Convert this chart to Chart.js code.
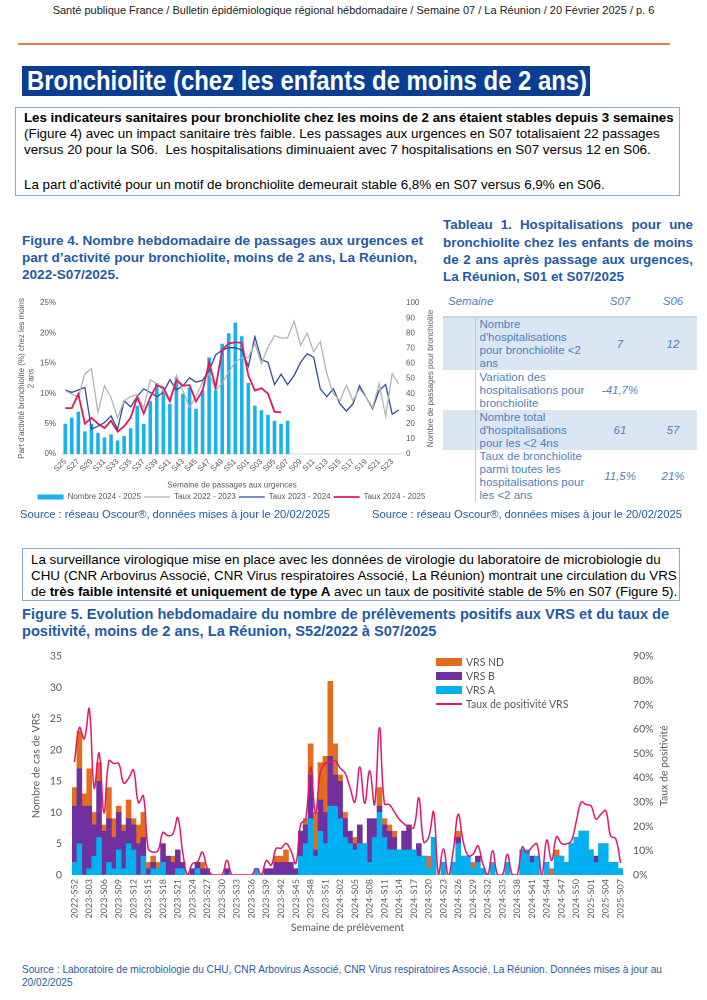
<!DOCTYPE html>
<html lang="fr"><head><meta charset="utf-8">
<script src="https://cdn.jsdelivr.net/npm/chart.js@4.4.1/dist/chart.umd.min.js"></script>
<style>
html,body{margin:0;padding:0}
body{width:707px;height:1000px;position:relative;background:#fff;overflow:hidden;font-family:"Liberation Sans",Arial,sans-serif;color:#000}
.a{position:absolute;white-space:nowrap}
.tt{font-weight:bold;font-size:13.6px;color:#1f5ba6}
.bx{font-size:13.4px}
.src{color:#1f5ba6}
#tbl{position:absolute;left:443px;top:286px;width:254px;border-collapse:collapse;table-layout:fixed;font-family:"Liberation Sans",Arial,sans-serif;font-size:11.5px;line-height:13px;color:#4f7fbf}
#tbl td{padding:0;vertical-align:middle}
#tbl tr.h td{height:30px;border-bottom:2px solid #c5d6ec;font-style:italic}
#tbl tr.s td{background:#dbe6f3}
#tbl td.c0{border-right:1px solid #b9cce6}
#tbl td.v{text-align:center;font-style:italic}
.lg{position:absolute;font-family:Lato,"Open Sans",sans-serif;font-size:10.5px;color:#595959;white-space:nowrap}
.lg span{display:inline-block;vertical-align:middle}
</style></head><body>
<script>
// ---------- Figure 4 data ----------
const weeks4 = ['S25','S26','S27','S28','S29','S30','S31','S32','S33','S34','S35','S36','S37','S38','S39','S40','S41','S42','S43','S44','S45','S46','S47','S48','S49','S50','S51','S52','S01','S02','S03','S04','S05','S06','S07','S08','S09','S10','S11','S12','S13','S14','S15','S16','S17','S18','S19','S20','S21','S22','S23','S24'];
const nombre2425 = [20,24,28,15,20,14,11,13,9,12,17,32,20,35,47,42,33,51,40,44,30,42,64,42,73,80,87,78,47,32,29,26,22,20,22,null,null,null,null,null,null,null,null,null,null,null,null,null,null,null,null,null];
const taux2223 = [10.5,9.9,9.4,13.3,14.1,6.9,11.3,9.3,6,8.8,9.5,9.8,7.6,12.3,11.6,10.5,8.5,13,10.5,7.7,9.5,11.9,13.4,10.5,11.7,13.6,15.2,16,16,18.3,15,17.7,19.6,19.2,19.2,22,18,20,16.9,18.6,13.3,10,8.8,11.4,8.8,10.8,9.4,7.7,11.6,6.3,13.3,11.6];
const taux2324 = [10.6,10.2,10.6,11,4.1,4.6,5.2,6.3,4.1,8.8,7.8,9.5,10.8,10.2,9.5,10.2,12.3,10.6,11.3,12.6,11.9,12.2,13.8,16.4,17.2,17.6,17.6,17.2,14.5,19.4,15.6,15.2,11.5,13.2,11.5,13,15.2,16.6,16,10.8,9.5,10.8,8.3,7.1,8.3,11.3,9.4,7.5,10.5,11.5,6.6,7.3];
const taux2425 = [7.6,7.6,9.9,5,6,5,4.3,5.5,3.7,4.6,6,9.4,6.7,9.4,11.4,11,8.8,12.2,11.3,11.4,8.7,10.5,15.2,11,17.2,18.3,18.5,18.4,13,10.5,10.9,10,7,6.9,null,null,null,null,null,null,null,null,null,null,null,null,null,null,null,null,null,null];
const series4 = ['Nombre 2024 - 2025','Taux 2022 - 2023','Taux 2023 - 2024','Taux 2024 - 2025'];
const ticks4Left = [0,5,10,15,20,25];
const ticks4Right = [0,10,20,30,40,50,60,70,80,90,100];

// ---------- Tableau 1 data ----------
const tblLabels = ["Nombre<br>d'hospitalisations<br>pour bronchiolite &lt;2<br>ans","Variation des<br>hospitalisations pour<br>bronchiolite","Nombre total<br>d'hospitalisations<br>pour les &lt;2 4ns","Taux de bronchiolite<br>parmi toutes les<br>hospitalisations pour<br>les &lt;2 ans"];
const tblS07 = ['7','-41,7%','61','11,5%'];
const tblS06 = ['12','','57','21%'];

// ---------- Figure 5 data ----------
const weeks5 = ('2022-S52 2023-S01 2023-S02 2023-S03 2023-S04 2023-S05 2023-S06 2023-S07 2023-S08 2023-S09 2023-S10 2023-S11 2023-S12 2023-S13 2023-S14 2023-S15 2023-S16 2023-S17 2023-S18 2023-S19 2023-S20 2023-S21 2023-S22 2023-S23 2023-S24 2023-S25 2023-S26 2023-S27 2023-S28 2023-S29 2023-S30 2023-S31 2023-S32 2023-S33 2023-S34 2023-S35 2023-S36 2023-S37 2023-S38 2023-S39 2023-S40 2023-S41 2023-S42 2023-S43 2023-S44 2023-S45 2023-S46 2023-S47 2023-S48 2023-S49 2023-S50 2023-S51 2023-S52 ' +
 '2024-S01 2024-S02 2024-S03 2024-S04 2024-S05 2024-S06 2024-S07 2024-S08 2024-S09 2024-S10 2024-S11 2024-S12 2024-S13 2024-S14 2024-S15 2024-S16 2024-S17 2024-S18 2024-S19 2024-S20 2024-S21 2024-S22 2024-S23 2024-S24 2024-S25 2024-S26 2024-S27 2024-S28 2024-S29 2024-S30 2024-S31 2024-S32 2024-S33 2024-S34 2024-S35 2024-S36 2024-S37 2024-S38 2024-S39 2024-S40 2024-S41 2024-S42 2024-S43 2024-S44 2024-S45 2024-S46 2024-S47 2024-S48 2024-S49 2024-S50 2024-S51 2024-S52 ' +
 '2025-S01 2025-S02 2025-S03 2025-S04 2025-S05 2025-S06 2025-S07').split(' ');
const vrsA = [2,5,0,1,3,6,0,2,1,4, 1,5,4,0,3,0,1,1,2,0, 0,1,1,0,0,1,0,0,0,0, 0,0,0,0,0,0,0,1,0,0, 0,0,0,0,0,0,3,5,9,3, 7,5,11,11,9,6,5,4,5,5, 2,6,10,6,4,4,4,4,4,4, 3,3,1,6,0,2,0,2,5,3, 3,1,2,1,0,2,0,0,2,0, 0,4,4,2,3,0,2,0,3,3, 2,5,6,7,7,4,2,5,5,2, 2,1];
const vrsB = [9,12,11,10,5,9,7,7,5,6, 6,4,4,5,3,1,1,0,3,3, 2,3,1,0,1,1,1,1,0,0, 0,1,0,0,0,0,0,0,0,1, 1,2,2,2,2,1,4,3,7,1, 5,5,8,5,6,3,2,1,3,0, 7,3,1,2,3,2,0,3,4,0, 2,0,0,0,0,0,0,0,1,0, 0,0,1,0,0,0,0,0,0,0, 0,0,0,1,0,0,0,0,0,0, 0,0,0,0,0,0,1,0,0,0, 0,0];
const vrsND = [3,6,2,6,2,3,1,5,3,1, 1,3,1,3,4,1,1,1,0,0, 1,0,0,0,0,0,1,0,0,0, 0,0,0,0,0,0,0,0,0,0, 0,1,1,2,0,0,0,1,5,6, 6,9,12,5,1,1,0,1,0,0, 0,0,3,1,1,1,0,0,0,0, 0,0,2,0,0,0,0,0,1,0, 0,1,0,0,0,0,0,0,0,0, 0,0,0,0,0,0,0,1,1,0, 0,0,0,0,0,0,0,0,0,0, 0,0];
const tauxVRS = [46.5,60.7,56,68.4,35.8,50.2,25.6,47,45.9,45.9, 37.8,39.8,43.2,29.7,32.6,10.8,9.4,10.1,17.5,16.2, 16.9,23.6,9.4,0,4.7,5.4,9.4,2.7,0,0, 0,6,0,0,0,0,0,2.7,0,6, 4,11,11,13,10,4.7,21,23,44.5,25.6, 42.5,46,46.5,47,44,42,36,30,44.5,29.5, 43,29,60.7,29.3,29,26,23,21,19.6,19.6, 31.7,13.5,15.5,26,0,10.8,0,10,25,14, 8,8.5,12,4.7,0,10,0,0,8.5,0, 0,11.5,9,11.5,12.8,0,14.4,6,15.8,13, 12.8,14,22,30,29,28.5,23,25,26.5,16, 15,5];
const series5 = ['VRS ND','VRS B','VRS A','Taux de positivité VRS'];
const ticks5Left = [0,5,10,15,20,25,30,35];
const ticks5Right = [0,10,20,30,40,50,60,70,80,90];
</script>

<div class="a" style="left:0;width:707px;top:4px;text-align:center;font-size:11px;color:#222">Santé publique France / Bulletin épidémiologique régional hébdomadaire / Semaine 07 / La Réunion / 20 Février 2025 / p. 6</div>
<div class="a" style="left:18px;top:43px;width:652px;height:2px;background:#ea7a4c"></div>
<div class="a" style="left:22px;top:66px;width:568px;height:30px;background:#0a3e93;overflow:hidden"><span style="display:inline-block;color:#fff;font-weight:bold;font-size:28px;line-height:30px;margin-left:5px;transform:scaleX(0.853);transform-origin:0 50%">Bronchiolite (chez les enfants de moins de 2 ans)</span></div>

<div class="a" style="left:15px;top:107px;width:665px;height:89px;border:1px solid #8ea9d6;box-sizing:border-box"></div>
<div class="a bx" style="left:24px;top:110px;font-weight:bold;font-size:13.3px">Les indicateurs sanitaires pour bronchiolite chez les moins de 2 ans étaient stables depuis 3 semaines</div>
<div class="a bx" style="left:24px;top:126px">(Figure 4) avec un impact sanitaire très faible. Les passages aux urgences en S07 totalisaient 22 passages</div>
<div class="a bx" style="left:24px;top:142px">versus 20 pour la S06.&nbsp; Les hospitalisations diminuaient avec 7 hospitalisations en S07 versus 12 en S06.</div>
<div class="a bx" style="left:24px;top:177px">La part d’activité pour un motif de bronchiolite demeurait stable 6,8% en S07 versus 6,9% en S06.</div>

<div class="a tt" style="left:22px;top:233px">Figure 4. Nombre hebdomadaire de passages aux urgences et</div>
<div class="a tt" style="left:22px;top:250px">part d’activité pour bronchiolite, moins de 2 ans, La Réunion,</div>
<div class="a tt" style="left:22px;top:267px">2022-S07/2025.</div>

<div class="a tt" style="left:443px;top:217px;width:250px;text-align:justify;text-align-last:justify;white-space:normal;font-size:13.4px">Tableau 1. Hospitalisations pour une</div>
<div class="a tt" style="left:443px;top:235px;width:250px;text-align:justify;text-align-last:justify;white-space:normal;font-size:13.4px">bronchiolite chez les enfants de moins</div>
<div class="a tt" style="left:443px;top:252px;width:250px;text-align:justify;text-align-last:justify;white-space:normal;font-size:13.4px">de 2 ans après passage aux urgences,</div>
<div class="a tt" style="left:443px;top:269px;font-size:13.4px">La Réunion, S01 et S07/2025</div>

<canvas id="c4" class="a" style="left:0;top:290px;width:437px;height:221px" width="437" height="221"></canvas>
<div class="a src" style="left:20px;top:508px;font-size:11.2px">Source : réseau Oscour®, données mises à jour le 20/02/2025</div>
<div class="a src" style="left:372px;top:508px;font-size:11.2px">Source : réseau Oscour®, données mises à jour le 20/02/2025</div>

<table id="tbl"><colgroup><col style="width:32px"><col style="width:116px"><col style="width:58px"><col style="width:48px"></colgroup><tbody id="tb"></tbody></table>

<div class="a" style="left:22px;top:548px;width:658px;height:53px;border:1px solid #8ea9d6;box-sizing:border-box"></div>
<div class="a bx" style="left:31px;top:552px">La surveillance virologique mise en place avec les données de virologie du laboratoire de microbiologie du</div>
<div class="a bx" style="left:31px;top:568px">CHU (CNR Arbovirus Associé, CNR Virus respiratoires Associé, La Réunion) montrait une circulation du VRS</div>
<div class="a bx" style="left:31px;top:584px">de <b>très faible intensité et uniquement de type A</b> avec un taux de positivité stable de 5% en S07 (Figure 5).</div>

<div class="a tt" style="left:22px;top:606px;font-size:14.6px">Figure 5. Evolution hebdomadaire du nombre de prélèvements positifs aux VRS et du taux de</div>
<div class="a tt" style="left:22px;top:623px;font-size:14.6px">positivité, moins de 2 ans, La Réunion, S52/2022 à S07/2025</div>

<canvas id="c5" class="a" style="left:0;top:640px;width:707px;height:300px" width="707" height="300"></canvas>
<div id="lg5"></div>

<div class="a src" style="left:22px;top:963px;font-size:10.1px;line-height:13px">Source : Laboratoire de microbiologie du CHU, CNR Arbovirus Associé, CNR Virus respiratoires Associé, La Réunion. Données mises à jour au<br>20/02/2025</div>

<script>
// table
(function(){
  let h = '<tr class="h"><td colspan="2" style="padding-left:5px">Semaine</td><td class="v">S07</td><td class="v">S06</td></tr>';
  const heights=[52,40,40,52];
  tblLabels.forEach((l,i)=>{
    h += '<tr class="'+(i%2===0?'s':'')+'"><td class="c0" style="height:'+heights[i]+'px"></td><td style="padding-left:4px">'+l+'</td><td class="v">'+tblS07[i]+'</td><td class="v">'+tblS06[i]+'</td></tr>';
  });
  document.getElementById('tb').innerHTML = h;
})();

// plugin: right-axis title rotated like Excel (reading bottom to top)
const rightTitle = {
  id:'rightTitle',
  afterDraw(chart, args, o){
    const a = chart.chartArea, ctx = chart.ctx;
    ctx.save();
    ctx.font = o.font; ctx.fillStyle = o.color;
    ctx.textAlign = 'center'; ctx.textBaseline = 'middle';
    ctx.translate(o.x, (a.top + a.bottom)/2);
    ctx.rotate(-Math.PI/2);
    ctx.fillText(o.text, 0, 0);
    ctx.restore();
  }
};

const grey = '#595959';
const f4 = {family:"'Liberation Sans', Arial, sans-serif", size:8};
new Chart(document.getElementById('c4'), {
  data:{labels:weeks4, datasets:[
    {type:'bar', label:series4[0], data:nombre2425, yAxisID:'y1', backgroundColor:'#19b2ea', barPercentage:0.55, categoryPercentage:1, order:2, pointStyle:'rect'},
    {type:'line', label:series4[1], data:taux2223, yAxisID:'y', borderColor:'#b3b3b3', borderWidth:1.3, pointRadius:0, order:1, pointStyle:'line', tension:0},
    {type:'line', label:series4[2], data:taux2324, yAxisID:'y', borderColor:'#2f4d94', borderWidth:1.3, pointRadius:0, order:1, pointStyle:'line', tension:0},
    {type:'line', label:series4[3], data:taux2425, yAxisID:'y', borderColor:'#e2185f', borderWidth:1.8, pointRadius:0, order:0, pointStyle:'line', tension:0}
  ]},
  plugins:[rightTitle],
  options:{
    responsive:false, animation:false, devicePixelRatio:2,
    layout:{padding:{top:13,left:26,right:0,bottom:0}},
    plugins:{tooltip:{enabled:false},
      rightTitle:{text:'Nombre de passages pour bronchiolite', x:431, font:"8px 'Liberation Sans', Arial, sans-serif", color:grey},
      legend:{position:'bottom', labels:{usePointStyle:true, pointStyleWidth:26, boxWidth:26, boxHeight:5, padding:3, color:grey, font:f4, sort:(a,b)=>a.datasetIndex-b.datasetIndex}}},
    scales:{
      x:{grid:{display:false, drawTicks:false}, border:{color:'#d9d9d9'},
         ticks:{autoSkip:false, maxRotation:45, minRotation:45, color:grey, font:f4, padding:3, callback:(v,i)=> i%2===0 ? weeks4[i] : ''},
         title:{display:true, text:'Semaine de passages aux urgences', color:grey, font:f4, padding:{top:3,bottom:0}},
         afterFit:s=>{s.height=36;}},
      y:{position:'left', min:0, max:25, afterBuildTicks:s=>{s.ticks=ticks4Left.map(v=>({value:v}));}, grid:{display:false, drawTicks:false}, border:{display:false},
         ticks:{color:grey, font:f4, padding:6, callback:v=>v+'%'},
         title:{display:true, text:["Part d'activité bronchiolite (%) chez les moins","2 ans"], color:grey, font:f4, padding:{top:-9,bottom:0}},
         afterFit:s=>{s.width=36;}},
      y1:{position:'right', min:0, max:100, afterBuildTicks:s=>{s.ticks=ticks4Right.map(v=>({value:v}));}, grid:{display:false, drawTicks:false}, border:{display:false},
         ticks:{color:grey, font:f4, padding:4},
         afterFit:s=>{s.width=35;}}
    }
  }
});

const f5 = {family:"Lato, 'Open Sans', sans-serif", size:10.5};
const cA='#00b0f0', cB='#7030a0', cND='#e46c1f', cL='#e3176a';
new Chart(document.getElementById('c5'), {
  data:{labels:weeks5, datasets:[
    {type:'line', label:series5[3], data:tauxVRS, yAxisID:'y1', borderColor:cL, borderWidth:1.5, pointRadius:0, tension:0.4},
    {type:'bar', label:series5[2], data:vrsA, yAxisID:'y', backgroundColor:cA, barPercentage:1, categoryPercentage:1, stack:'s'},
    {type:'bar', label:series5[1], data:vrsB, yAxisID:'y', backgroundColor:cB, barPercentage:1, categoryPercentage:1, stack:'s'},
    {type:'bar', label:series5[0], data:vrsND, yAxisID:'y', backgroundColor:cND, barPercentage:1, categoryPercentage:1, stack:'s'}
  ]},
  plugins:[rightTitle],
  options:{
    responsive:false, animation:false, devicePixelRatio:2,
    layout:{padding:{top:13,left:0,right:0,bottom:6}},
    plugins:{tooltip:{enabled:false}, legend:{display:false},
      rightTitle:{text:'Taux de positivité', x:664, font:"10.5px Lato, 'Open Sans', sans-serif", color:grey}},
    scales:{
      x:{stacked:true, grid:{display:false, drawTicks:false}, border:{display:false},
         ticks:{autoSkip:false, maxRotation:90, minRotation:90, color:grey, font:{family:f5.family,size:9}, padding:4, callback:(v,i)=> i%3===0 ? weeks5[i] : ''},
         title:{display:true, text:'Semaine de prélèvement', color:grey, font:f5, padding:{top:3,bottom:0}},
         afterFit:s=>{s.height=59;}},
      y:{stacked:true, position:'left', min:0, max:35, afterBuildTicks:s=>{s.ticks=ticks5Left.map(v=>({value:v}));}, grid:{display:false, drawTicks:false}, border:{display:false},
         ticks:{color:grey, font:f5, padding:10},
         title:{display:true, text:'Nombre de cas de VRS', color:grey, font:f5, padding:{top:30,bottom:0}},
         afterFit:s=>{s.width=72;}},
      y1:{position:'right', min:0, max:90, afterBuildTicks:s=>{s.ticks=ticks5Right.map(v=>({value:v}));}, grid:{display:false, drawTicks:false}, border:{display:false},
         ticks:{color:grey, font:f5, padding:10, callback:v=>v+'%'},
         afterFit:s=>{s.width=84;}}
    }
  }
});

// legend for figure 5 (HTML)
(function(){
  const cols=[cND,cB,cA,cL];
  let h='';
  series5.forEach((s,i)=>{
    const sw = i<3 ? '<span style="width:26px;height:8px;background:'+cols[i]+'"></span>' : '<span style="width:26px;height:2px;background:'+cols[i]+'"></span>';
    h += '<div class="lg" style="left:436px;top:'+(655+i*14)+'px">'+sw+'<span style="margin-left:4px">'+s+'</span></div>';
  });
  document.getElementById('lg5').innerHTML=h;
})();
</script>
</body></html>
